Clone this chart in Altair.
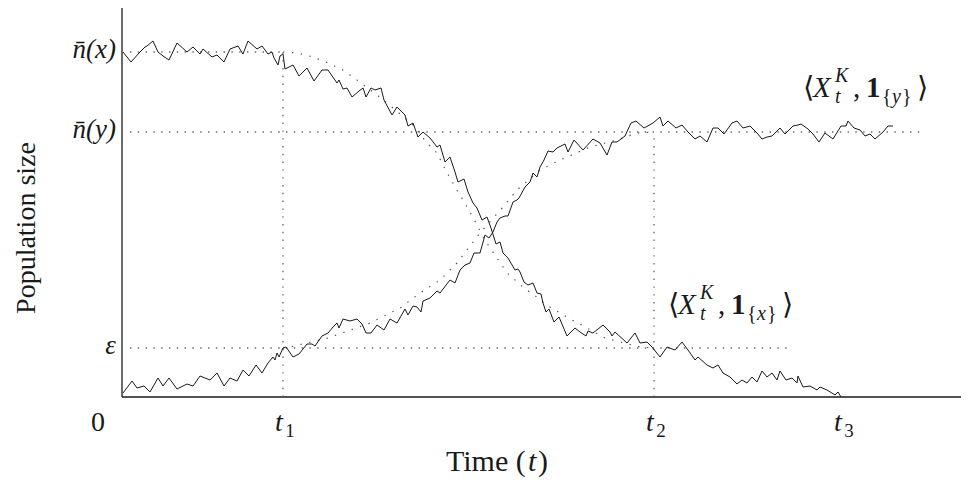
import altair as alt
import pandas as pd

# ---------------- data (time in arbitrary units, population in arbitrary units) ----
N_X = 345      # equilibrium of resident  n̄(x)
N_Y = 265      # equilibrium of mutant    n̄(y)
EPS = 49       # epsilon level
T1, T2, T3 = 161, 532, 720
T_MAX = 839
POP_MAX = 389

# stochastic resident population  <X_t^K, 1_{x}>
res_t = [1, 9, 18, 23, 25, 31, 36, 41, 47, 55, 65, 71, 78, 81, 90, 95, 102, 108, 116, 121,
         126, 135, 140, 146, 150, 152, 156, 158, 161, 163, 171, 177, 185, 192, 200, 206, 215,
         217, 221, 225, 230, 237, 241, 244, 249, 253, 259, 262, 270, 275, 283, 286, 291, 296,
         301, 308, 315, 318, 323, 328, 333, 336, 342, 346, 351, 355, 360, 365, 369, 374, 378,
         381, 386, 393, 396, 398, 402, 406, 411, 415, 419, 421, 424, 427, 432, 437, 445, 453,
         458, 464, 466, 471, 481, 488, 490, 493, 505, 513, 518, 525, 530, 538, 545, 553, 560,
         566, 573, 576, 585, 591, 596, 601, 608, 615, 620, 625, 630, 635, 640, 645, 650, 655,
         658, 664, 670, 675, 676, 681, 688, 695, 698, 705, 713, 716, 719]
res_n = [345, 335, 345, 350, 351, 356, 345, 341, 337, 354, 345, 350, 343, 348, 340, 342, 335,
         348, 351, 343, 356, 348, 351, 343, 345, 339, 332, 341, 343, 328, 332, 321, 329, 316,
         327, 327, 314, 317, 308, 309, 300, 306, 309, 300, 309, 307, 309, 297, 282, 290, 282,
         271, 274, 260, 265, 259, 250, 252, 235, 240, 225, 215, 218, 205, 194, 189, 177, 180,
         169, 153, 155, 144, 139, 127, 128, 125, 115, 112, 114, 104, 103, 94, 85, 88, 75, 80,
         61, 69, 65, 61, 66, 64, 72, 65, 61, 65, 54, 64, 54, 55, 50, 40, 50, 47, 55, 47, 37,
         40, 32, 29, 32, 24, 20, 13, 17, 14, 20, 15, 26, 20, 24, 17, 26, 17, 19, 14, 21, 10,
         11, 7, 10, 7, 2, 5, 0]

# stochastic mutant population  <X_t^K, 1_{y}>
mut_t = [1, 10, 15, 22, 28, 36, 41, 47, 55, 65, 71, 78, 88, 95, 102, 108, 115, 121, 127, 134,
         140, 146, 151, 153, 155, 157, 161, 164, 171, 177, 185, 190, 193, 200, 206, 211, 215,
         217, 221, 228, 235, 240, 244, 249, 255, 262, 268, 275, 283, 286, 291, 295, 299, 301,
         308, 315, 318, 328, 333, 338, 343, 348, 352, 358, 363, 367, 371, 375, 378, 383, 386,
         391, 395, 397, 403, 408, 411, 415, 418, 422, 426, 431, 435, 443, 446, 452, 461, 471,
         478, 485, 490, 495, 503, 509, 514, 522, 531, 538, 541, 546, 554, 560, 566, 573, 578,
         585, 591, 596, 602, 610, 615, 621, 628, 635, 640, 645, 650, 658, 663, 671, 676, 679,
         686, 691, 697, 703, 711, 719, 724, 726, 732, 738, 743, 748, 753, 761, 766, 771]
mut_n = [4, 16, 9, 11, 5, 19, 11, 19, 8, 13, 11, 21, 17, 24, 11, 19, 16, 27, 21, 32, 24, 34,
         40, 37, 44, 40, 49, 50, 40, 43, 53, 53, 51, 61, 64, 70, 74, 69, 78, 76, 78, 73, 64, 64,
         72, 67, 78, 74, 88, 82, 91, 90, 85, 96, 99, 106, 104, 117, 114, 127, 132, 134, 144,
         144, 162, 159, 165, 175, 179, 181, 181, 195, 197, 199, 210, 215, 224, 220, 230, 237,
         246, 245, 249, 253, 245, 257, 247, 258, 254, 242, 255, 255, 261, 274, 276, 269, 274,
         280, 271, 276, 269, 272, 265, 258, 261, 255, 269, 269, 263, 274, 276, 269, 271, 264,
         258, 260, 261, 269, 263, 271, 272, 273, 268, 263, 255, 264, 258, 271, 271, 276, 269,
         267, 261, 263, 258, 265, 271, 271]

# deterministic (Lotka-Volterra) trajectories between t1 and t2
res_det_t = [161, 176, 191, 206, 221, 235, 255, 271, 291, 305, 315, 321, 328, 335, 341, 348,
             355, 361, 368, 375, 385, 401, 409, 416, 423, 431, 440, 448, 456, 465, 483, 498,
             518, 532]
res_det_n = [345, 344, 340, 334, 327, 317, 302, 289, 272, 254, 244, 232, 219, 207, 197, 185,
             172, 160, 149, 139, 124, 110, 104, 99, 93, 88, 83, 78, 74, 69, 59, 55, 50, 49]
mut_det_t = [161, 168, 206, 248, 278, 298, 318, 335, 358, 381, 395, 418, 438, 468, 495, 515, 532]
mut_det_n = [49, 50, 59, 74, 89, 104, 117, 134, 164, 190, 207, 227, 237, 250, 257, 264, 265]

# dotted guide lines
h_levels = [N_X, N_Y, EPS]
h_start = [8, 8, 8]
h_end = [T1, 800, 666]
v_times = [T1, T2]
v_top = [N_X, N_Y]

# tick labels
x_ticks = [T1, T2, T3]
x_tick_subs = ["1", "2", "3"]
y_ticks = [N_X, N_Y, EPS]
y_tick_labels = ["n̄(x)", "n̄(y)", "ε"]

# annotation anchors
ann_t = [546, 681]
ann_n = [92, 309]
ann_var = ["x", "y"]

FONT = "Liberation Serif"
INK = "#1a1a1a"

xs = alt.Scale(domain=[-114, T_MAX], nice=False, zero=False)
ys = alt.Scale(domain=[-80, POP_MAX], nice=False, zero=False)
X = lambda f: alt.X(f, scale=xs, axis=None)
Y = lambda f: alt.Y(f, scale=ys, axis=None)

noisy = pd.concat([
    pd.DataFrame({"t": res_t, "n": res_n, "s": "x"}),
    pd.DataFrame({"t": mut_t, "n": mut_n, "s": "y"}),
])
det = pd.concat([
    pd.DataFrame({"t": res_det_t, "n": res_det_n, "s": "x"}),
    pd.DataFrame({"t": mut_det_t, "n": mut_det_n, "s": "y"}),
])
hdf = pd.DataFrame({"n": h_levels, "t0": h_start, "t1": h_end})
vdf = pd.DataFrame({"t": v_times, "n0": [0, 0], "n1": v_top})
xt = pd.DataFrame({"t": x_ticks, "sub": x_tick_subs, "n": 0})
yt = pd.DataFrame({"n": y_ticks, "lab": y_tick_labels, "t": 0})

DOT = [1.4, 6.4]


def txt(t, n, s, **kw):
    base = dict(font=FONT, color=INK)
    base.update(kw)
    return alt.Chart(pd.DataFrame({"t": [t], "n": [n], "lab": [s]})).mark_text(**base).encode(
        x=X("t:Q"), y=Y("n:Q"), text="lab:N")


layers = []
# axes
layers.append(alt.Chart(pd.DataFrame({"t": [0], "n0": [0], "n1": [POP_MAX]})).mark_rule(
    color=INK, strokeWidth=1.3).encode(x=X("t:Q"), y=Y("n0:Q"), y2="n1:Q"))
layers.append(alt.Chart(pd.DataFrame({"n": [0], "t0": [0], "t1": [T_MAX]})).mark_rule(
    color=INK, strokeWidth=1.3).encode(y=Y("n:Q"), x=X("t0:Q"), x2="t1:Q"))
# dotted guides
layers.append(alt.Chart(hdf).mark_rule(color=INK, strokeWidth=1.2, strokeDash=DOT).encode(
    y=Y("n:Q"), x=X("t0:Q"), x2="t1:Q"))
layers.append(alt.Chart(vdf).mark_rule(color="#555", strokeWidth=1.2, strokeDash=DOT).encode(
    x=X("t:Q"), y=Y("n0:Q"), y2="n1:Q"))
# deterministic curves
layers.append(alt.Chart(det).mark_line(color="#555", strokeWidth=1.2, strokeDash=[1.4, 7.5]).encode(
    x=X("t:Q"), y=Y("n:Q"), detail="s:N"))
# stochastic curves
layers.append(alt.Chart(noisy).mark_line(color=INK, strokeWidth=1.0).encode(
    x=X("t:Q"), y=Y("n:Q"), detail="s:N"))

# tick labels
layers.append(alt.Chart(xt).mark_text(font=FONT, fontSize=28, fontStyle="italic", color=INK,
                                      baseline="alphabetic", dx=-4, dy=34).encode(
    x=X("t:Q"), y=Y("n:Q"), text=alt.value("t")))
layers.append(alt.Chart(xt).mark_text(font=FONT, fontSize=19, color=INK, baseline="alphabetic",
                                      dx=7, dy=40).encode(x=X("t:Q"), y=Y("n:Q"), text="sub:N"))
layers.append(txt(0, 0, "0", fontSize=28, baseline="alphabetic", dx=-24, dy=34))
layers.append(alt.Chart(yt).mark_text(font=FONT, fontSize=27, fontStyle="italic", color=INK,
                                      align="right", dx=-6, dy=-2).encode(
    x=X("t:Q"), y=Y("n:Q"), text="lab:N"))

# axis titles
layers.append(txt(324, 0, "Time (", fontSize=30, align="left", baseline="alphabetic", dy=74))
layers.append(txt(324, 0, "t", fontSize=30, fontStyle="italic", align="left", baseline="alphabetic",
                  dx=82, dy=74))
layers.append(txt(324, 0, ")", fontSize=30, align="left", baseline="alphabetic", dx=92, dy=74))
layers.append(txt(-95, 169, "Population size", fontSize=28, angle=270))

# annotations  <X_t^K, 1_{x}>  and  <X_t^K, 1_{y}>
pieces = [
    ("⟨", 0, 0, 29, "normal", "normal"),
    ("X", 10, 0, 29, "italic", "normal"),
    ("K", 32, -12, 20, "italic", "normal"),
    ("t", 32, 9, 20, "italic", "normal"),
    (",", 50, 0, 29, "normal", "normal"),
    ("1", 63, 0, 29, "normal", "bold"),
    ("{", 79, 9, 20, "normal", "normal"),
    ("VAR", 89, 9, 20, "italic", "normal"),
    ("}", 99, 9, 20, "normal", "normal"),
    ("⟩", 114, 0, 29, "normal", "normal"),
]
for at, an, av in zip(ann_t, ann_n, ann_var):
    for s, dx, dy, fs, st, wt in pieces:
        layers.append(txt(at, an, av if s == "VAR" else s, fontSize=fs, fontStyle=st,
                          fontWeight=wt, align="left", dx=dx, dy=dy))

chart = alt.layer(*layers).properties(
    width=953, height=469, autosize=alt.AutoSizeParams(type="none"), padding=0
).configure_view(stroke=None)

chart.save("out.html", embed_options={"renderer": "svg", "actions": False})
